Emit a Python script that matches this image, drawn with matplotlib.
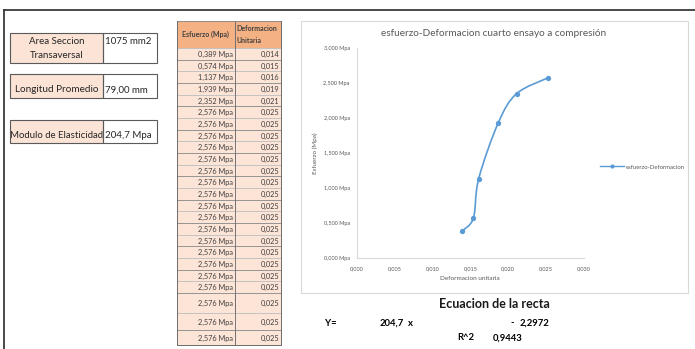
import matplotlib
matplotlib.use('Agg')
import matplotlib.pyplot as plt
from matplotlib.patches import Rectangle, PathPatch
from matplotlib.path import Path
from matplotlib.lines import Line2D
from matplotlib.ticker import FuncFormatter, MultipleLocator

plt.rcParams['font.family'] = ['Lato', 'DejaVu Sans']

# --- data ---
stress_mpa = [0.389, 0.574, 1.137, 1.939, 2.352, 2.576, 2.576, 2.576,
              2.576, 2.576, 2.576, 2.576, 2.576, 2.576, 2.576, 2.576,
              2.576, 2.576, 2.576, 2.576, 2.576, 2.576, 2.576, 2.576]
strain = [0.0139, 0.0154, 0.0161, 0.0187, 0.0211, 0.0252, 0.0252, 0.0252,
          0.0252, 0.0252, 0.0252, 0.0252, 0.0252, 0.0252, 0.0252, 0.0252,
          0.0252, 0.0252, 0.0252, 0.0252, 0.0252, 0.0252, 0.0252, 0.0252]

section_area = '1075 mm2'
avg_length = '79,00 mm'
modulus = '204,7 Mpa'
slope = 204.7
intercept = 2.2972
r_squared = 0.9443

BLUE = '#5b9bd5'
GRID_GRAY = '#d9d9d9'
TXT = '#595959'


def comma(v, nd):
    return f'{v:.{nd}f}'.replace('.', ',')


fig = plt.figure(figsize=(6.95, 3.49), dpi=100)

# background axes in pixel coords (y down)
bg = fig.add_axes([0, 0, 1, 1])
bg.set_xlim(0, 695)
bg.set_ylim(349, 0)
bg.axis('off')

# sheet frame
bg.plot([4, 695], [10, 10], color='#3a3a3a', lw=1.3, zorder=5)
bg.plot([4, 4], [10, 349], color='#3a3a3a', lw=1.3, zorder=5)

# --- left info boxes ---
# label text may overflow its cell (as in Excel); neighbours are drawn on top
def info_box(y0, y1, lines, value, label_y, val_y, size=7):
    h = y1 - y0
    bg.add_patch(Rectangle((10, y0), 93, h, fc='#fbe3d5', ec='none', zorder=1))
    for ln, yy in zip(lines, label_y):
        bg.text(57, yy, ln, ha='center', va='center', fontsize=size,
                color='#262626', zorder=1.5)
    bg.add_patch(Rectangle((4.5, y0 - 1), 5.5, h + 2, fc='white', ec='none', zorder=2))
    bg.add_patch(Rectangle((103, y0), 54, h, fc='white', ec='none', zorder=2))
    bg.add_patch(Rectangle((10, y0), 93, h, fc='none', ec='#5a5a5a', lw=0.8, zorder=2.5))
    bg.add_patch(Rectangle((103, y0), 54, h, fc='none', ec='#5a5a5a', lw=0.8, zorder=2.5))
    bg.text(105, val_y, value, ha='left', va='center', fontsize=7,
            color='#262626', zorder=3)

info_box(33, 63, ['Area Seccion', 'Transaversal'], section_area, [42, 55], 42)
info_box(74, 98, ['Longitud Promedio'], avg_length, [90], 90, size=7.2)
info_box(120, 143, ['Modulo de Elasticidad'], modulus, [136], 136, size=6.9)

# --- data table ---
c0, c1, c2 = 176.7, 235, 281
head_top, head_bot = 20.7, 48
bg.add_patch(Rectangle((c0, head_top), c1 - c0, head_bot - head_top, fc='#f4b183', ec='#7f7f7f', lw=0.6))
bg.add_patch(Rectangle((c1, head_top), c2 - c1, head_bot - head_top, fc='#f4b183', ec='#7f7f7f', lw=0.6))
bg.text((c0 + c1) / 2, 34.5, 'Esfuerzo (Mpa)', ha='center', va='center',
        fontsize=5, fontweight='bold', color='#404040')
for ln, yy in zip(['Deformacion', 'Unitaria'], [28.5, 40.5]):
    bg.text(c1 + 1.5, yy, ln, ha='left', va='center', fontsize=5,
            fontweight='bold', color='#404040')

row_heights = [11.67] * 21 + [20, 17, 15]
y = head_bot
for i, (s, e) in enumerate(zip(stress_mpa, strain)):
    h = row_heights[i]
    edge = '#8a8a8a' if i % 2 == 1 else '#c4c4c4'
    bg.add_patch(Rectangle((c0, y), c1 - c0, h, fc='#fce4d6', ec=edge, lw=0.6))
    bg.add_patch(Rectangle((c1, y), c2 - c1, h, fc='#fce4d6', ec=edge, lw=0.6))
    bg.text(c1 - 2, y + h / 2 + 0.5, comma(s, 3) + ' Mpa', ha='right', va='center',
            fontsize=5.3, color='#404040')
    bg.text(c2 - 1.5, y + h / 2 + 0.5, comma(e, 3), ha='right', va='center',
            fontsize=5.3, color='#404040')
    y += h
bg.plot([c1, c1], [head_top, y], color='#6e6e6e', lw=0.6)
bg.plot([c0, c0, c2, c2], [head_top, y, y, head_top], color='#6e6e6e', lw=0.7)

# --- chart box ---
bg.add_patch(Rectangle((300.7, 20.7), 387.3, 272.3, fc='white', ec=GRID_GRAY, lw=0.8))
bg.text(493.5, 33.5, 'esfuerzo-Deformacion cuarto ensayo a compresión', ha='center',
        va='center', fontsize=7.2, color=TXT)

px_l, px_r, px_t, px_b = 356.7, 584, 48.3, 258.3
ax = fig.add_axes([px_l / 695, (349 - px_b) / 349, (px_r - px_l) / 695, (px_b - px_t) / 349])
ax.set_xlim(0, 0.030)
ax.set_ylim(0, 3.0)
ax.patch.set_alpha(0)
ax.xaxis.set_major_locator(MultipleLocator(0.005))
ax.yaxis.set_major_locator(MultipleLocator(0.5))
ax.xaxis.set_major_formatter(FuncFormatter(lambda v, p: comma(v, 3)))
ax.yaxis.set_major_formatter(FuncFormatter(lambda v, p: comma(v, 3) + ' Mpa'))
for side in ['top', 'right']:
    ax.spines[side].set_visible(False)
for side in ['left', 'bottom']:
    ax.spines[side].set_color(GRID_GRAY)
    ax.spines[side].set_linewidth(0.8)
ax.tick_params(axis='both', length=0, labelsize=4, labelcolor=TXT)
ax.tick_params(axis='y', pad=5)
ax.tick_params(axis='x', pad=5.5)

# smoothed line (Excel style) through the distinct points
pts = []
for xv, yv in zip(strain, stress_mpa):
    if not pts or (xv, yv) != pts[-1]:
        pts.append((xv, yv))
verts = [pts[0]]
codes = [Path.MOVETO]
n = len(pts)
for i in range(n - 1):
    p0 = pts[i - 1] if i > 0 else pts[i]
    p1 = pts[i]
    p2 = pts[i + 1]
    p3 = pts[i + 2] if i + 2 < n else pts[i + 1]
    k1 = (p1[0] + (p2[0] - p0[0]) / 6, p1[1] + (p2[1] - p0[1]) / 6)
    k2 = (p2[0] - (p3[0] - p1[0]) / 6, p2[1] - (p3[1] - p1[1]) / 6)
    verts += [k1, k2, p2]
    codes += [Path.CURVE4] * 3
ax.add_patch(PathPatch(Path(verts, codes), fc='none', ec=BLUE, lw=1.2))
ax.plot([p[0] for p in pts], [p[1] for p in pts], 'o', ms=2.8, color=BLUE)

bg.text(315, 153, 'Esfuerzo (Mpa)', rotation=90, ha='center', va='center',
        fontsize=4.5, color=TXT)
bg.text(470, 278, 'Deformacion unitaria', ha='center', va='center',
        fontsize=4.6, color=TXT)

handle = Line2D([], [], color=BLUE, lw=1, marker='o', ms=2)
bg.legend(handles=[handle], labels=['esfuerzo-Deformacion'], loc='center left',
          bbox_to_anchor=(595 / 695, 1 - 167 / 349), bbox_transform=fig.transFigure,
          frameon=False, fontsize=4.3, handlelength=4, handletextpad=0.3,
          labelcolor=TXT)

# --- regression equation ---
bg.text(494, 304, 'Ecuacion de la recta', ha='center', va='center',
        fontsize=9, fontweight='bold', color='#1a1a1a')
bg.text(325, 323, 'Y=', ha='left', va='center', fontsize=6.8, fontweight='bold')
bg.text(404, 323, comma(slope, 1), ha='right', va='center', fontsize=6.8, fontweight='bold')
bg.text(408, 323, 'x', ha='left', va='center', fontsize=6.8, fontweight='bold')
bg.text(512, 323, '-', ha='center', va='center', fontsize=6.8, fontweight='bold')
bg.text(520, 323, comma(intercept, 4), ha='left', va='center', fontsize=6.8, fontweight='bold')
bg.text(457, 338, 'R^2', ha='left', va='center', fontsize=6.8, fontweight='bold')
bg.text(493, 338, comma(r_squared, 4), ha='left', va='center', fontsize=6.8, fontweight='bold')

fig.savefig('out.png', dpi=100)
